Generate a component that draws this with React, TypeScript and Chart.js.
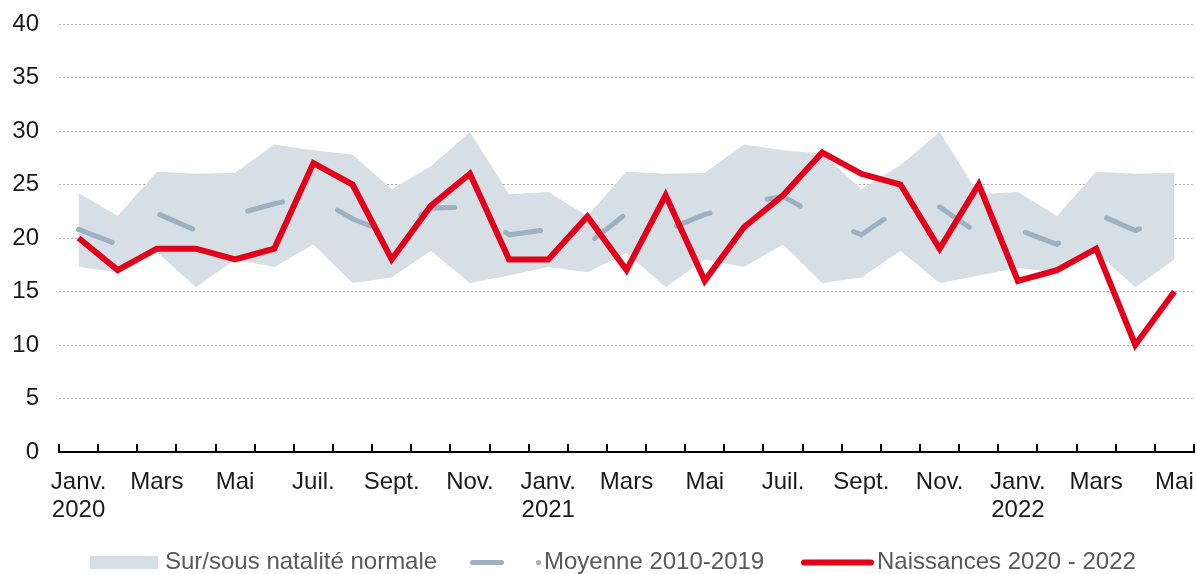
import React, { useEffect, useRef } from 'react';
import { Chart, registerables } from 'chart.js';

Chart.register(...registerables);

const categories = [
  'Janv. 2020', 'Févr. 2020', 'Mars 2020', 'Avr. 2020', 'Mai 2020', 'Juin 2020',
  'Juil. 2020', 'Août 2020', 'Sept. 2020', 'Oct. 2020', 'Nov. 2020', 'Déc. 2020',
  'Janv. 2021', 'Févr. 2021', 'Mars 2021', 'Avr. 2021', 'Mai 2021', 'Juin 2021',
  'Juil. 2021', 'Août 2021', 'Sept. 2021', 'Oct. 2021', 'Nov. 2021', 'Déc. 2021',
  'Janv. 2022', 'Févr. 2022', 'Mars 2022', 'Avr. 2022', 'Mai 2022',
];

const tickLabels: (string | string[])[] = [
  ['Janv.', '2020'], '', 'Mars', '', 'Mai', '', 'Juil.', '', 'Sept.', '', 'Nov.', '',
  ['Janv.', '2021'], '', 'Mars', '', 'Mai', '', 'Juil.', '', 'Sept.', '', 'Nov.', '',
  ['Janv.', '2022'], '', 'Mars', '', 'Mai',
];

const naissances = [
  20, 17, 19, 19, 18, 19, 27, 25, 18, 23, 26, 18,
  18, 22, 17, 24, 16, 21, 24, 28, 26, 25, 19, 25,
  16, 17, 19, 10, 15,
];

const moyenne = [
  20.8, 19.4, 22.3, 20.7, 22.2, 23.2, 23.9, 21.8, 20.3, 22.8, 22.9, 20.3,
  20.8, 19.4, 22.3, 20.7, 22.2, 23.2, 23.9, 21.8, 20.3, 22.8, 22.9, 20.4,
  20.8, 19.4, 22.3, 20.7, 22.2,
];

const bandUpper = [
  24.2, 22.05, 26.2, 26.0, 26.1, 28.75, 28.2, 27.8, 24.55, 26.7, 29.9, 24.1,
  24.3, 22.05, 26.2, 26.0, 26.1, 28.75, 28.2, 27.9, 24.55, 26.8, 29.9, 24.1,
  24.3, 22.05, 26.2, 26.0, 26.1,
];

const bandLower = [
  17.3, 16.8, 18.7, 15.4, 18.0, 17.3, 19.4, 15.8, 16.3, 18.8, 15.8, 16.5,
  17.3, 16.8, 18.6, 15.4, 18.0, 17.3, 19.4, 15.8, 16.3, 18.8, 15.8, 16.5,
  17.2, 16.8, 18.7, 15.4, 18.0,
];

const yTicks = [0, 5, 10, 15, 20, 25, 30, 35, 40];

const legendLabels = ['Sur/sous natalité normale', 'Moyenne 2010-2019', 'Naissances 2020 - 2022'];

const RED = '#e2001a';
const MEAN = '#9db1c2';
const BAND = '#d6dfe6';
const FONT = "'Liberation Sans', Arial, Helvetica, sans-serif";

const legendPlugin = {
  id: 'customLegend',
  afterDraw(chart: any) {
    const ctx = chart.ctx as CanvasRenderingContext2D;
    ctx.save();
    const y = 562.5;
    // band
    ctx.fillStyle = BAND;
    ctx.fillRect(90, 556, 68, 13);
    // mean
    ctx.strokeStyle = MEAN;
    ctx.lineWidth = 5;
    ctx.lineCap = 'round';
    ctx.beginPath();
    ctx.moveTo(472.5, y);
    ctx.lineTo(501.5, y);
    ctx.stroke();
    ctx.fillStyle = MEAN;
    ctx.beginPath();
    ctx.arc(538.5, y, 2.6, 0, Math.PI * 2);
    ctx.fill();
    // red
    ctx.strokeStyle = RED;
    ctx.lineWidth = 6;
    ctx.beginPath();
    ctx.moveTo(804, y);
    ctx.lineTo(871, y);
    ctx.stroke();
    // texts
    ctx.fillStyle = '#595959';
    ctx.font = `24px ${FONT}`;
    ctx.textBaseline = 'middle';
    ctx.textAlign = 'left';
    ctx.fillText(legendLabels[0], 165, y);
    ctx.fillText(legendLabels[1], 544, y);
    ctx.fillText(legendLabels[2], 877, y);
    ctx.restore();
  },
};

export default function App() {
  const ref = useRef<HTMLCanvasElement>(null);

  useEffect(() => {
    const canvas = ref.current;
    if (!canvas) return;
    const chart = new Chart(canvas, {
      type: 'line',
      data: {
        labels: categories,
        datasets: [
          {
            label: legendLabels[2],
            data: naissances,
            borderColor: RED,
            borderWidth: 6,
            pointRadius: 0,
            fill: false,
            tension: 0,
            order: 0,
          },
          {
            label: legendLabels[1],
            data: moyenne,
            borderColor: MEAN,
            borderWidth: 5,
            borderDash: [36, 59],
            borderCapStyle: 'round',
            pointRadius: 0,
            fill: false,
            tension: 0,
            order: 1,
          },
          {
            label: legendLabels[0],
            data: bandUpper,
            borderWidth: 0,
            borderColor: 'rgba(0,0,0,0)',
            backgroundColor: BAND,
            pointRadius: 0,
            fill: '+1',
            tension: 0,
            order: 2,
          },
          {
            label: 'bas',
            data: bandLower,
            borderWidth: 0,
            borderColor: 'rgba(0,0,0,0)',
            backgroundColor: BAND,
            pointRadius: 0,
            fill: false,
            tension: 0,
            order: 3,
          },
        ],
      },
      options: {
        responsive: false,
        animation: false,
        devicePixelRatio: 1,
        layout: { padding: { top: 24, right: 3, left: 0, bottom: 0 } },
        plugins: {
          legend: { display: false },
          tooltip: { enabled: false },
        },
        scales: {
          x: {
            type: 'category',
            offset: true,
            grid: {
              offset: true,
              drawOnChartArea: false,
              drawTicks: true,
              tickLength: -8,
              color: '#000',
              lineWidth: 2,
            },
            border: { display: true, color: '#000', width: 2 },
            ticks: {
              autoSkip: false,
              maxRotation: 0,
              minRotation: 0,
              padding: 24,
              color: '#1a1a1a',
              font: { family: FONT, size: 24, lineHeight: 1.17 },
              callback: (_v: any, i: number) => tickLabels[i],
            },
            afterFit: (scale: any) => {
              scale.height = 122;
              scale.paddingLeft = 0;
              scale.paddingRight = 0;
            },
          },
          y: {
            min: yTicks[0],
            max: yTicks[yTicks.length - 1],
            afterBuildTicks: (scale: any) => {
              scale.ticks = yTicks.map((v) => ({ value: v }));
            },
            grid: {
              color: '#b5b5b5',
              lineWidth: 1,
              drawTicks: false,
            },
            border: { display: false, dash: [2, 2] },
            ticks: {
              padding: 20,
              color: '#1a1a1a',
              font: { family: FONT, size: 24 },
            },
            afterFit: (scale: any) => {
              scale.width = 59;
              scale.paddingTop = 0;
              scale.paddingBottom = 0;
            },
          },
        },
      },
      plugins: [legendPlugin],
    } as any);
    return () => chart.destroy();
  }, []);

  return (
    <div style={{ position: 'fixed', left: 0, top: 0, width: 1197, height: 574, background: '#fff' }}>
      <canvas ref={ref} width={1197} height={574} style={{ display: 'block' }} />
    </div>
  );
}
